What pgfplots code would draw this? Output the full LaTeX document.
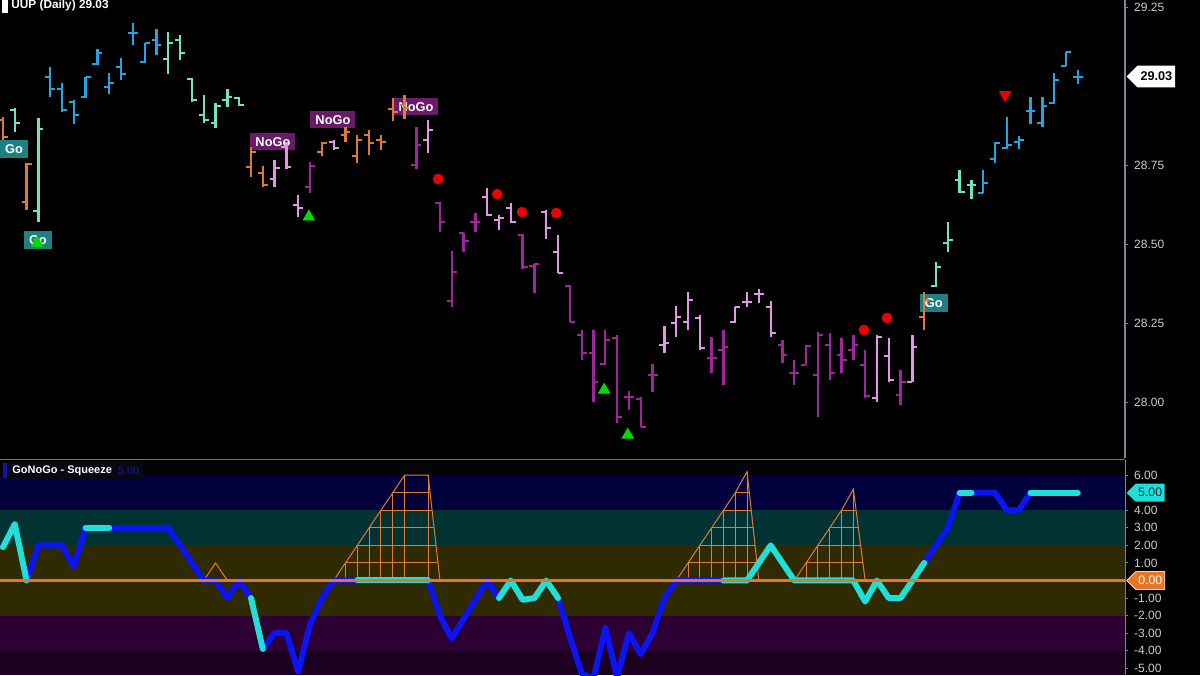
\documentclass[border=0pt]{standalone}
\usepackage{pgfplots}
\pgfplotsset{compat=1.18}
\usepackage{pgfplotstable}
\usepackage{fontspec}
\setmainfont{Liberation Sans}
\usetikzlibrary{shapes.symbols}

\definecolor{barblue}{RGB}{35,165,228}
\definecolor{baraqua}{RGB}{112,228,186}
\definecolor{barorange}{RGB}{222,122,52}
\definecolor{barpink}{RGB}{226,150,230}
\definecolor{barpurple}{RGB}{160,38,160}
\definecolor{oscblue}{RGB}{12,20,240}
\definecolor{osccyan}{RGB}{32,222,216}
\definecolor{sqz}{RGB}{226,124,48}
\definecolor{zeroline}{RGB}{230,118,36}
\definecolor{bandtop}{RGB}{4,4,8}
\definecolor{bandnavy}{RGB}{0,0,58}
\definecolor{bandteal}{RGB}{2,50,50}
\definecolor{bandolive}{RGB}{48,42,0}
\definecolor{bandpurple}{RGB}{45,0,52}
\definecolor{banddeep}{RGB}{28,0,32}
\definecolor{gotag}{RGB}{30,128,128}
\definecolor{nogotag}{RGB}{105,26,105}
\definecolor{ticktext}{RGB}{205,205,205}
\definecolor{axisgray}{RGB}{120,135,150}
\definecolor{sepline}{RGB}{96,120,136}
\definecolor{dotred}{RGB}{235,0,0}
\definecolor{trigreen}{RGB}{0,220,0}
\definecolor{cyantext}{RGB}{10,40,60}
\definecolor{zeroborder}{RGB}{240,215,190}
\definecolor{labelbg}{RGB}{8,8,20}
\definecolor{labelbar}{RGB}{20,20,170}
\definecolor{labelval}{RGB}{20,20,110}

% daily bars: index, open, high, low, close
\pgfplotstableread{
i o h l c
0 28.892 28.902 28.829 28.839
2 28.633 28.756 28.608 28.753
21 28.744 28.807 28.712 28.791
22 28.725 28.747 28.680 28.687
27 28.791 28.823 28.779 28.820
29 28.845 28.870 28.823 28.855
30 28.779 28.845 28.756 28.829
31 28.845 28.861 28.782 28.820
32 28.829 28.845 28.798 28.823
33 28.927 28.962 28.889 28.918
34 28.940 28.972 28.896 28.930
78 28.269 28.348 28.228 28.323
}\tblorange
\pgfplotstableread{
i o h l c
1 28.924 28.930 28.855 28.883
3 28.604 28.899 28.570 28.864
14 29.086 29.171 29.038 29.136
15 29.146 29.161 29.082 29.105
16 29.022 29.025 28.949 28.956
17 28.908 28.972 28.883 28.892
18 28.883 28.946 28.867 28.937
19 28.956 28.991 28.934 28.965
20 28.962 28.965 28.937 28.940
79 28.367 28.443 28.364 28.427
80 28.503 28.570 28.475 28.513
81 28.703 28.734 28.661 28.665
82 28.687 28.703 28.643 28.687
}\tblaqua
\pgfplotstableread{
i o h l c
4 29.029 29.060 28.965 28.991
5 28.991 29.010 28.918 28.924
6 28.949 28.956 28.880 28.908
7 28.965 29.029 28.962 29.029
8 29.070 29.117 29.067 29.105
9 28.997 29.041 28.975 29.010
10 29.060 29.089 29.019 29.038
11 29.168 29.199 29.130 29.168
12 29.076 29.136 29.073 29.136
13 29.146 29.180 29.098 29.130
83 28.661 28.734 28.661 28.693
84 28.769 28.823 28.756 28.820
85 28.804 28.902 28.801 28.813
86 28.823 28.842 28.801 28.829
87 28.921 28.965 28.880 28.921
88 28.883 28.965 28.870 28.937
89 28.946 29.041 28.943 29.019
90 29.063 29.108 29.063 29.108
91 29.029 29.051 29.007 29.029
}\tblblue
\pgfplotstableread{
i o h l c
23 28.706 28.766 28.680 28.741
24 28.807 28.823 28.737 28.744
25 28.623 28.655 28.585 28.614
28 28.823 28.829 28.798 28.804
36 28.829 28.892 28.788 28.861
41 28.649 28.677 28.589 28.592
42 28.576 28.592 28.544 28.582
43 28.614 28.630 28.567 28.570
46 28.601 28.608 28.516 28.551
47 28.475 28.529 28.408 28.408
56 28.180 28.241 28.155 28.187
57 28.250 28.304 28.206 28.269
58 28.253 28.348 28.228 28.323
59 28.266 28.275 28.165 28.171
62 28.253 28.301 28.250 28.301
63 28.317 28.348 28.301 28.317
64 28.342 28.358 28.313 28.342
65 28.301 28.320 28.206 28.218
74 28.013 28.212 28.000 28.206
75 28.146 28.203 28.063 28.070
77 28.063 28.212 28.063 28.174
}\tblpink
\pgfplotstableread{
i o h l c
26 28.680 28.760 28.661 28.747
35 28.750 28.870 28.737 28.813
37 28.630 28.633 28.538 28.570
38 28.320 28.478 28.301 28.411
39 28.535 28.535 28.475 28.510
40 28.570 28.598 28.538 28.570
44 28.529 28.532 28.421 28.427
45 28.430 28.437 28.345 28.437
48 28.367 28.370 28.253 28.253
49 28.212 28.228 28.133 28.155
50 28.155 28.228 28.000 28.063
51 28.120 28.228 28.117 28.196
52 28.203 28.212 27.934 27.953
53 28.016 28.035 27.975 28.016
54 28.010 28.016 27.921 27.921
55 28.085 28.120 28.032 28.085
60 28.139 28.206 28.092 28.139
61 28.165 28.228 28.054 28.174
66 28.180 28.196 28.123 28.149
67 28.092 28.133 28.054 28.092
68 28.117 28.180 28.117 28.177
69 28.085 28.222 27.953 28.212
70 28.180 28.218 28.070 28.092
71 28.149 28.203 28.092 28.133
72 28.165 28.212 28.133 28.180
73 28.117 28.165 28.013 28.019
76 28.022 28.101 27.990 28.063
}\tblpurple

% GoNoGo oscillator
\pgfplotstableread{
i v
0 1.9
1 3.2
2 0
3 2
4 2
5 2
6 0.8
7 3
8 3
9 3
10 3
11 3
12 3
13 3
14 3
15 2
16 1
17 0
18 0
19 -1
20 0
21 -1
22 -3.9
23 -3
24 -3
25 -5.2
26 -2.5
27 -1
28 0
29 0
30 0
31 0
32 0
33 0
34 0
35 0
36 0
37 -2
38 -3.3
39 -2.2
40 -1.1
41 0
42 -1
43 0
44 -1.1
45 -1
46 0
47 -1
48 -3.2
49 -5.3
50 -5.6
51 -2.7
52 -5.5
53 -3
54 -4.2
55 -3
56 -1
57 0
58 0
59 0
60 0
61 0
62 0
63 0
64 1
65 2
66 1
67 0
68 0
69 0
70 0
71 0
72 0
73 -1.2
74 0
75 -1
76 -1
77 0
78 1
79 2
80 3
81 5
82 5
83 5
84 5
85 4
86 4
87 5
88 5
89 5
90 5
91 5
}\tblosc

\pgfplotsset{
  nomarks/.style={only marks, mark=*, mark size=0pt, mark options={draw=none, fill=none}},
  ohlcbar/.style={nomarks, color=#1,
    error bars/error mark=none,
    error bars/error bar style={line width=1.4pt, draw=#1}},
  hl/.style={ohlcbar=#1, error bars/y dir=plus, error bars/y explicit},
  op/.style={ohlcbar=#1, error bars/x dir=minus, error bars/x fixed=0.42},
  cl/.style={ohlcbar=#1, error bars/x dir=plus, error bars/x fixed=0.42},
  osc/.style={color=#1, line width=3.6pt, line join=round, line cap=round, no markers},
  sqzline/.style={sqz, line width=0.6pt, no markers},
  band/.style={draw=none, fill=#1, no markers},
}
\tikzset{
  gotagstyle/.style={fill=gotag, text=white, font=\bfseries\fontsize{7.7}{8}\selectfont,
    minimum width=16.8pt, minimum height=10.8pt, inner sep=0pt},
  nogotagstyle/.style={fill=nogotag, text=white, font=\bfseries\fontsize{7.7}{8}\selectfont,
    minimum width=27pt, minimum height=10.2pt, inner sep=0pt},
}
\newcommand{\ohlc}[2]{%
  \addplot[hl=#1] table[x=i, y=l, y error plus expr=\thisrow{h}-\thisrow{l}] {#2};
  \addplot[op=#1] table[x=i, y=o] {#2};
  \addplot[cl=#1] table[x=i, y=c] {#2};
}

\begin{document}
\begin{tikzpicture}
\fill[black] (0pt,0pt) rectangle (720pt,405pt);

% ---------- price panel ----------
\begin{axis}[
  at={(0pt,130.2pt)}, anchor=south west,
  scale only axis, width=675pt, height=274.8pt,
  xmin=-0.25, xmax=95, ymin=27.8228, ymax=29.2722,
  axis x line=none, axis y line*=right,
  y axis line style={axisgray, line width=0.8pt},
  ytick={28,28.25,28.5,28.75,29.25},
  tick align=outside, major tick length=2pt,
  tick style={axisgray, line width=0.6pt},
  yticklabel style={font=\fontsize{7.2}{8}\selectfont, text=ticktext,
    /pgf/number format/.cd, fixed, fixed zerofill, precision=2, assume math mode=true},
  clip=false,
]
\node[gotagstyle] at (axis cs:0.93,28.801) {Go};
\node[gotagstyle] at (axis cs:2.96,28.513) {Go};
\node[gotagstyle] at (axis cs:78.8,28.313) {Go};
\node[nogotagstyle] at (axis cs:22.86,28.823) {NoGo};
\node[nogotagstyle] at (axis cs:27.94,28.893) {NoGo};
\node[nogotagstyle] at (axis cs:34.97,28.934) {NoGo};

\ohlc{barorange}{\tblorange}
\ohlc{baraqua}{\tblaqua}
\ohlc{barblue}{\tblblue}
\ohlc{barpink}{\tblpink}
\ohlc{barpurple}{\tblpurple}

\addplot[only marks, mark=*, mark size=3pt, color=dotred] coordinates {
  (36.85,28.706) (41.85,28.658) (43.95,28.601) (46.85,28.598) (72.9,28.228) (74.85,28.266)};
\addplot[only marks, mark=triangle*, mark size=4pt, color=trigreen] coordinates {
  (2.9,28.503) (25.9,28.586) (50.9,28.038) (52.9,27.896)};
\addplot[only marks, mark=triangle*, mark size=4pt, color=dotred, mark options={rotate=180}] coordinates {
  (84.85,28.972)};

\node[signal, signal to=west, fill=white, text=black, anchor=west,
  font=\bfseries\fontsize{7.6}{8}\selectfont, inner sep=1.8pt, minimum height=13pt]
  at (axis cs:95.1,29.03) {29.03};
\end{axis}

% ---------- GoNoGo squeeze panel ----------
\begin{axis}[
  at={(0pt,0pt)}, anchor=south west,
  scale only axis, width=675pt, height=129pt,
  xmin=-0.25, xmax=95, ymin=-5.385, ymax=6.866,
  axis x line*=top, axis y line*=right, xtick=\empty,
  x axis line style={sepline, line width=1.2pt},
  y axis line style={axisgray, line width=0.8pt},
  ytick={-5,-4,-3,-2,-1,1,2,3,4,6},
  tick align=outside, major tick length=2pt,
  tick style={axisgray, line width=0.6pt},
  yticklabel style={font=\fontsize{7.2}{8}\selectfont, text=ticktext,
    /pgf/number format/.cd, fixed, fixed zerofill, precision=2, assume math mode=true},
  clip=false,
]
\addplot[band=bandtop] coordinates {(-0.25,6) (95,6) (95,6.866) (-0.25,6.866)} -- cycle;
\addplot[band=bandnavy] coordinates {(-0.25,4) (95,4) (95,6) (-0.25,6)} -- cycle;
\addplot[band=bandteal] coordinates {(-0.25,2) (95,2) (95,4) (-0.25,4)} -- cycle;
\addplot[band=bandolive] coordinates {(-0.25,-2) (95,-2) (95,2) (-0.25,2)} -- cycle;
\addplot[band=bandpurple] coordinates {(-0.25,-4) (95,-4) (95,-2) (-0.25,-2)} -- cycle;
\addplot[band=banddeep] coordinates {(-0.25,-5.385) (95,-5.385) (95,-4) (-0.25,-4)} -- cycle;

% squeeze outlines
\addplot[sqzline] coordinates {(17,0) (18,1) (19,0)};
\addplot[sqzline] coordinates {(28,0) (29,1) (30,2) (31,3) (32,4) (33,5) (34,6) (35,6) (36,6) (37,0)};
\addplot[sqzline] coordinates {(57,0) (58,1) (59,2) (60,3) (61,4) (62,5) (63,6.2) (64,0)};
\addplot[sqzline] coordinates {(67,0) (68,1) (69,2) (70,3) (71,4) (72,5.2) (73,0)};
% squeeze levels
\addplot[sqzline, nomarks, error bars/.cd, x dir=plus, x explicit, error mark=none,
  error bar style={sqz, line width=0.6pt}] coordinates {
  (29,1) += (7.83,0) (30,2) += (6.67,0) (31,3) += (5.5,0) (32,4) += (4.33,0) (33,5) += (3.17,0)
  (58,1) += (5.84,0) (59,2) += (4.68,0) (60,3) += (3.52,0) (61,4) += (2.36,0) (62,5) += (1.19,0)
  (68,1) += (4.81,0) (69,2) += (3.62,0) (70,3) += (2.42,0) (71,4) += (1.23,0)};
% squeeze verticals
\addplot[sqzline, nomarks, error bars/.cd, y dir=minus, y explicit, error mark=none,
  error bar style={sqz, line width=0.6pt}] coordinates {
  (29,1) -= (0,1) (30,2) -= (0,2) (31,3) -= (0,3) (32,4) -= (0,4) (33,5) -= (0,5) (34,6) -= (0,6) (36,6) -= (0,6)
  (58,1) -= (0,1) (59,2) -= (0,2) (60,3) -= (0,3) (61,4) -= (0,4) (62,5) -= (0,5) (63,6.2) -= (0,6.2)
  (68,1) -= (0,1) (69,2) -= (0,2) (70,3) -= (0,3) (71,4) -= (0,4) (72,5.2) -= (0,5.2)};

% oscillator
\addplot[osc=oscblue, restrict x to domain=2:7] table[x=i, y=v] {\tblosc};
\addplot[osc=oscblue, restrict x to domain=9:21] table[x=i, y=v] {\tblosc};
\addplot[osc=oscblue, restrict x to domain=22:30] table[x=i, y=v] {\tblosc};
\addplot[osc=oscblue, restrict x to domain=36:42] table[x=i, y=v] {\tblosc};
\addplot[osc=oscblue, restrict x to domain=47:61] table[x=i, y=v] {\tblosc};
\addplot[osc=oscblue, restrict x to domain=78:81] table[x=i, y=v] {\tblosc};
\addplot[osc=oscblue, restrict x to domain=82:87] table[x=i, y=v] {\tblosc};
\addplot[osc=osccyan, restrict x to domain=0:2] table[x=i, y=v] {\tblosc};
\addplot[osc=osccyan, restrict x to domain=7:9] table[x=i, y=v] {\tblosc};
\addplot[osc=osccyan, restrict x to domain=21:22] table[x=i, y=v] {\tblosc};
\addplot[osc=osccyan, restrict x to domain=30:36] table[x=i, y=v] {\tblosc};
\addplot[osc=osccyan, restrict x to domain=42:47] table[x=i, y=v] {\tblosc};
\addplot[osc=osccyan, restrict x to domain=61:78] table[x=i, y=v] {\tblosc};
\addplot[osc=osccyan, restrict x to domain=81:82] table[x=i, y=v] {\tblosc};
\addplot[osc=osccyan, restrict x to domain=87:91] table[x=i, y=v] {\tblosc};

\addplot[zeroline, line width=1.3pt, no markers] coordinates {(-0.25,0) (95,0)};

\node[signal, signal to=west, fill=osccyan, text=cyantext, anchor=west,
  font=\fontsize{7.4}{8}\selectfont, inner sep=1.5pt, minimum height=10.8pt]
  at (axis cs:95.1,5) {5.00};
\node[signal, signal to=west, fill=zeroline, draw=zeroborder, line width=0.5pt,
  text=white, anchor=west, font=\fontsize{7.4}{8}\selectfont, inner sep=1.5pt, minimum height=10.8pt]
  at (axis cs:95.1,0) {0.00};
\end{axis}

% panel titles
\fill[white] (1.2pt,405pt) rectangle (4.6pt,397.4pt);
\node[anchor=west, text=white, font=\bfseries\fontsize{7.1}{8}\selectfont, inner sep=0pt]
  at (6.6pt,401.6pt) {UUP (Daily) 29.03};
\fill[labelbg] (1.8pt,128pt) rectangle (86pt,117.3pt);
\fill[labelbar] (1.8pt,127.2pt) rectangle (4.2pt,118.2pt);
\node[anchor=west, text=white, font=\bfseries\fontsize{6.6}{8}\selectfont, inner sep=0pt]
  at (7.2pt,122.7pt) {GoNoGo - Squeeze};
\node[anchor=west, text=labelval, font=\bfseries\fontsize{6.6}{8}\selectfont, inner sep=0pt]
  at (70.5pt,122.7pt) {5.00};

\pgfresetboundingbox
\path[use as bounding box] (0pt,0pt) rectangle (720pt,405pt);
\end{tikzpicture}
\end{document}
